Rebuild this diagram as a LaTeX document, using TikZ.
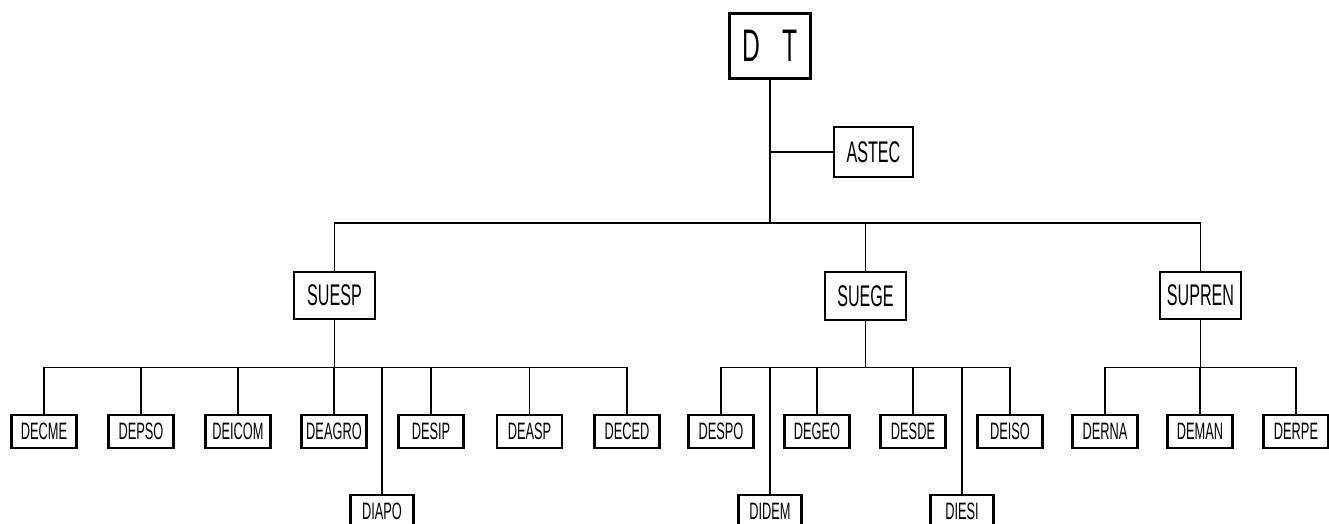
\documentclass[tikz,border=0pt]{standalone}
\usepackage{fontspec}
\newfontfamily\orgfont[FakeStretch=0.54]{Liberation Sans}
\usepackage{tikz}

\begin{document}
\begin{tikzpicture}[
    x=0.02cm, y=-0.02cm,
    line width=1.1pt,
    unit/.style={rectangle, draw, line width=1.3pt, inner sep=0pt, minimum width=1.3cm, minimum height=0.66cm, font=\orgfont\fontsize{13.5}{13.5}\selectfont},
    sup/.style={rectangle, draw, line width=1.3pt, inner sep=0pt, minimum width=1.62cm, minimum height=0.95cm, font=\orgfont\fontsize{17}{17}\selectfont},
    head/.style={rectangle, draw, line width=1.4pt, inner sep=0pt, minimum width=1.62cm, minimum height=1.3cm, font=\orgfont\fontsize{26}{26}\selectfont},
    link/.style={line width=1.1pt}
]
\useasboundingbox (0,0) rectangle (1329,524);

% Directorate and advisory
\node[head] (dt) at (770, 46) {D\,\,\,T};
\node[sup, minimum width=1.58cm, minimum height=1.0cm] (astec) at (873.5, 152) {ASTEC};

% Superintendencies
\node[sup] (suesp) at (334.5, 295.5) {SUESP};
\node[sup] (suege) at (865.5, 296) {SUEGE};
\node[sup] (supren) at (1200.5, 295.5) {SUPREN};

% Departments
\node[unit] (decme) at (44, 431.5) {DECME};
\node[unit] (depso) at (141, 431.5) {DEPSO};
\node[unit] (deicom) at (238, 431.5) {DEICOM};
\node[unit] (deagro) at (334, 431.5) {DEAGRO};
\node[unit] (desip) at (431, 431.5) {DESIP};
\node[unit] (deasp) at (529.5, 431.5) {DEASP};
\node[unit] (deced) at (627, 431.5) {DECED};
\node[unit] (despo) at (721, 431.5) {DESPO};
\node[unit] (degeo) at (817, 431.5) {DEGEO};
\node[unit] (desde) at (913, 431.5) {DESDE};
\node[unit] (deiso) at (1010, 431.5) {DEISO};
\node[unit] (derna) at (1105, 431.5) {DERNA};
\node[unit] (deman) at (1200, 431.5) {DEMAN};
\node[unit] (derpe) at (1296, 431.5) {DERPE};

% Divisions
\node[unit, minimum width=1.26cm, anchor=north] (diapo) at (382, 494) {\raisebox{-1.2pt}{DIAPO}};
\node[unit, minimum width=1.26cm, anchor=north] (didem) at (770, 494) {\raisebox{-1.2pt}{DIDEM}};
\node[unit, minimum width=1.26cm, anchor=north] (diesi) at (962, 494) {\raisebox{-1.2pt}{DIESI}};

% Bus levels
\coordinate (topbus) at (0, 223);
\coordinate (lowbus) at (0, 367.5);

% DT to superintendencies
\draw[link] (dt.south) -- (dt.south |- topbus);
\draw[link] (astec.west) -- (astec.west -| dt.south);
\draw[link] (suesp.north) -- (suesp.north |- topbus) -| (supren.north);
\draw[link] (suege.north) -- (suege.north |- topbus);

% SUESP units
\draw[link] (suesp.south) -- (suesp.south |- lowbus);
\draw[link] (decme.north) -- (decme.north |- lowbus) -| (deced.north);
\foreach \u in {depso, deicom, deagro, desip, deasp, diapo}
    \draw[link] (\u.north) -- (\u.north |- lowbus);

% SUEGE units
\draw[link] (suege.south) -- (suege.south |- lowbus);
\draw[link] (despo.north) -- (despo.north |- lowbus) -| (deiso.north);
\foreach \u in {didem, degeo, desde, diesi}
    \draw[link] (\u.north) -- (\u.north |- lowbus);

% SUPREN units
\draw[link] (supren.south) -- (supren.south |- lowbus);
\draw[link] (derna.north) -- (derna.north |- lowbus) -| (derpe.north);
\draw[link] (deman.north) -- (deman.north |- lowbus);

\end{tikzpicture}
\end{document}
